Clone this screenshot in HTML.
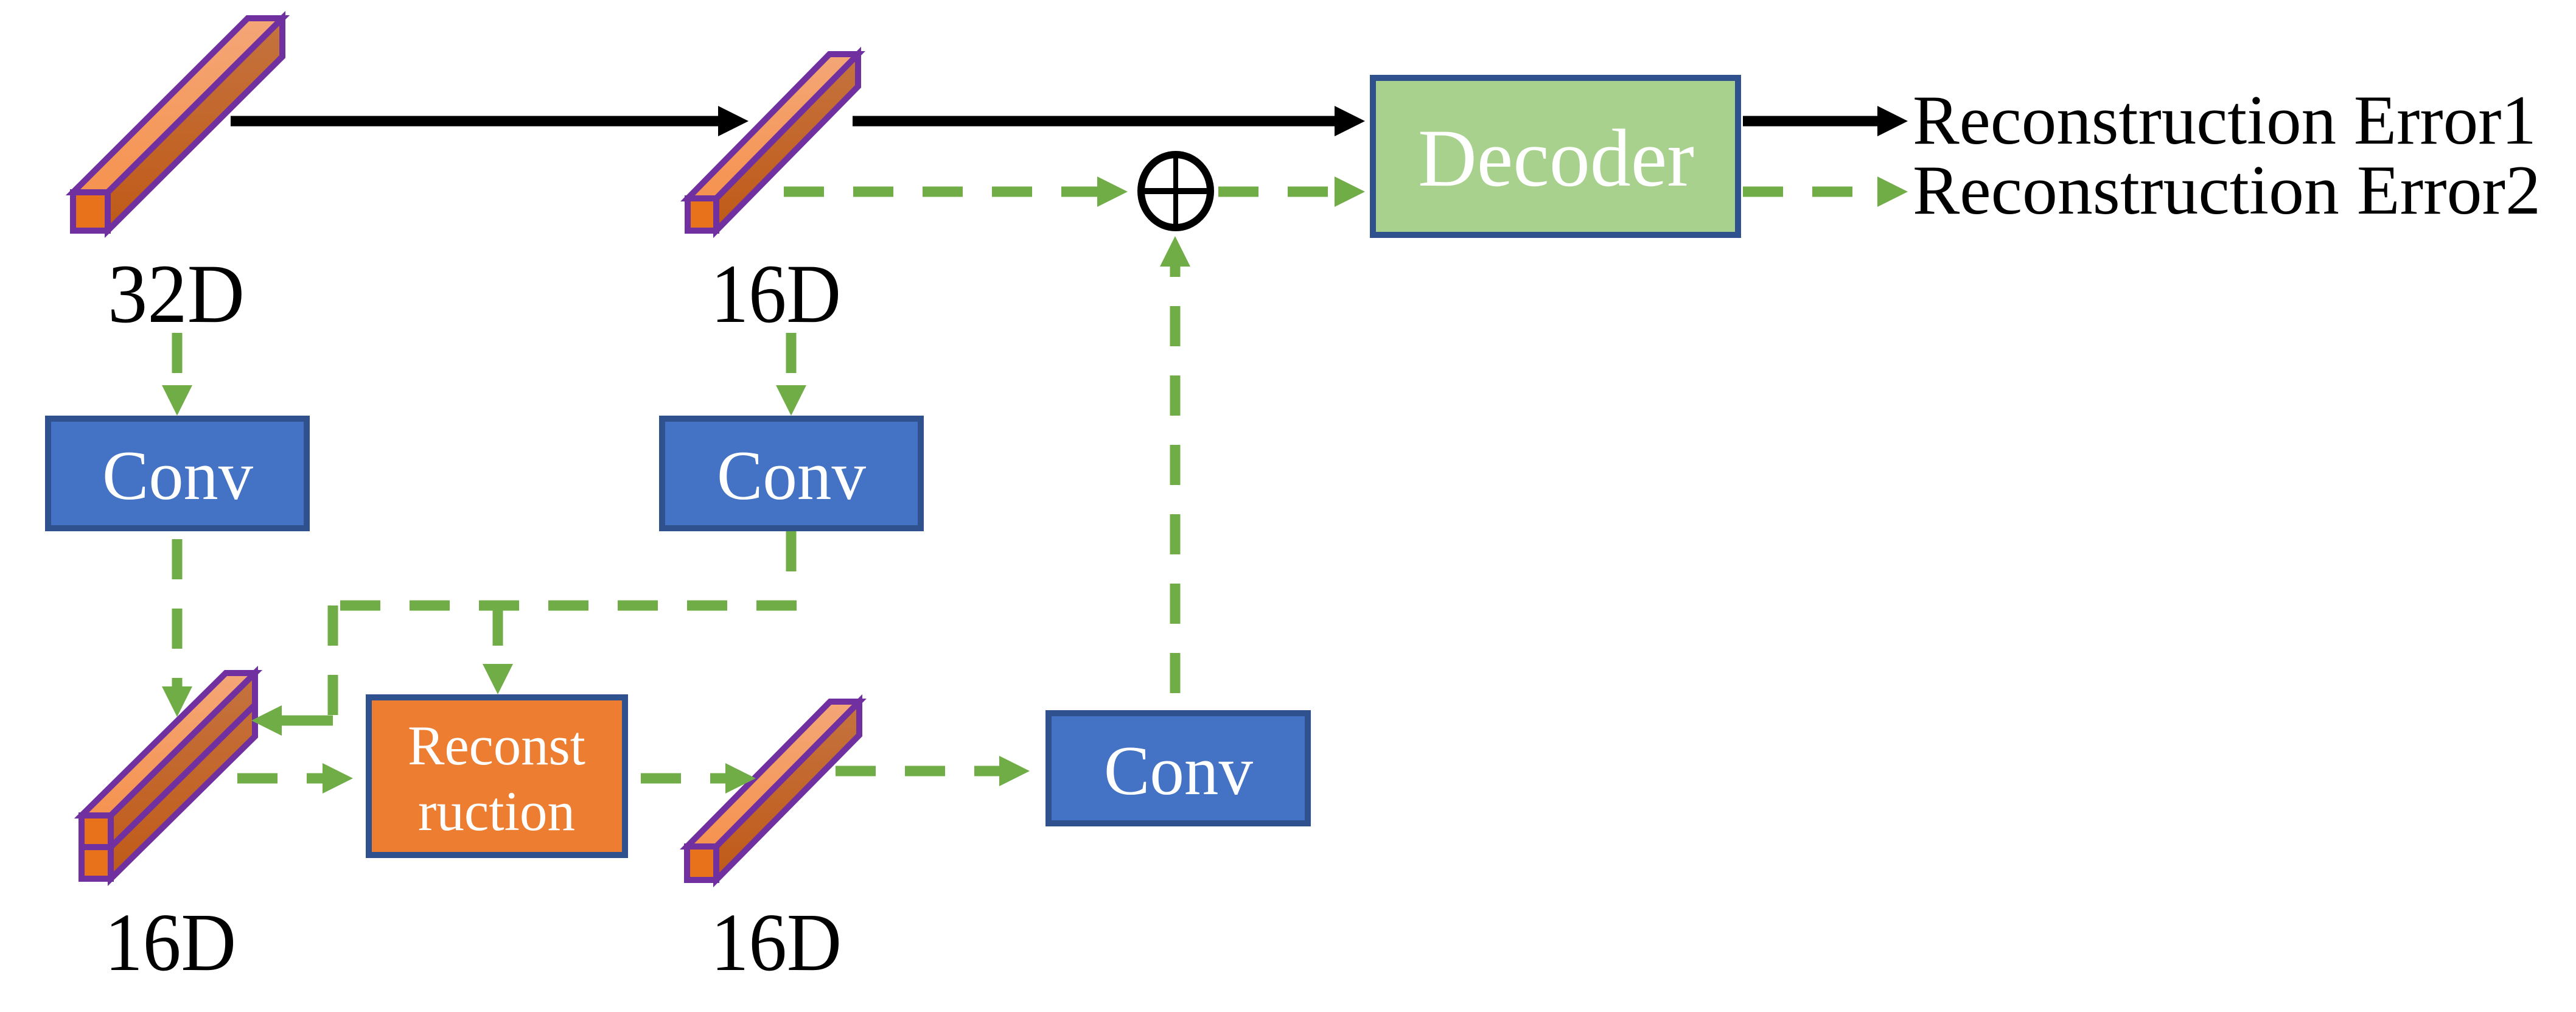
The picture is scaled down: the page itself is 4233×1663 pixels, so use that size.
<!DOCTYPE html>
<html><head><meta charset="utf-8"><style>
html,body{margin:0;padding:0;background:#fff;}
svg{display:block;}
text{font-family:"Liberation Serif","Times New Roman","DejaVu Serif",serif;}
</style></head><body>
<svg width="4233" height="1663" viewBox="0 0 4233 1663" xmlns="http://www.w3.org/2000/svg" font-family="'Liberation Serif', 'Times New Roman', serif">
<defs>
<linearGradient id="side" x1="0" y1="0" x2="0" y2="1"><stop offset="0" stop-color="#C5733F"/><stop offset="1" stop-color="#C05A18"/></linearGradient>
<linearGradient id="top" x1="0" y1="0" x2="0" y2="1"><stop offset="0" stop-color="#F4A677"/><stop offset="1" stop-color="#F59350"/></linearGradient>
</defs>
<g id="bars"></g>
<g id="lines" fill="#70AD47"></g>

<rect x="79" y="688" width="425" height="180" fill="#4472C4" stroke="#2F528F" stroke-width="10"/>
<rect x="1088" y="688" width="425" height="180" fill="#4472C4" stroke="#2F528F" stroke-width="10"/>
<rect x="1723" y="1172" width="426" height="181" fill="#4472C4" stroke="#2F528F" stroke-width="10"/>
<rect x="606" y="1146" width="421" height="259" fill="#ED7D31" stroke="#2F528F" stroke-width="10"/>
<rect x="2256" y="128" width="600" height="258" fill="#A9D18E" stroke="#2F528F" stroke-width="10"/>

<text x="168" y="820" font-size="115" fill="#fff" textLength="248" lengthAdjust="spacingAndGlyphs">Conv</text>
<text x="1178" y="820" font-size="115" fill="#fff" textLength="245" lengthAdjust="spacingAndGlyphs">Conv</text>
<text x="1814" y="1305" font-size="115" fill="#fff" textLength="245" lengthAdjust="spacingAndGlyphs">Conv</text>
<text x="670" y="1256" font-size="92" fill="#fff" textLength="292" lengthAdjust="spacingAndGlyphs">Reconst</text>
<text x="687" y="1364" font-size="92" fill="#fff" textLength="258" lengthAdjust="spacingAndGlyphs">ruction</text>
<text x="2330" y="305" font-size="135" fill="#fff" textLength="454" lengthAdjust="spacingAndGlyphs">Decoder</text>

<text x="177" y="529" font-size="138" fill="#000" textLength="225" lengthAdjust="spacingAndGlyphs">32D</text>
<text x="1168" y="529" font-size="138" fill="#000" textLength="214" lengthAdjust="spacingAndGlyphs">16D</text>
<text x="172" y="1594" font-size="136" fill="#000" textLength="216" lengthAdjust="spacingAndGlyphs">16D</text>
<text x="1168" y="1594" font-size="136" fill="#000" textLength="215" lengthAdjust="spacingAndGlyphs">16D</text>
<text x="3143" y="236" font-size="115" fill="#000" textLength="1025" lengthAdjust="spacingAndGlyphs">Reconstruction Error1</text>
<text x="3143" y="351" font-size="115" fill="#000" textLength="1032" lengthAdjust="spacingAndGlyphs">Reconstruction Error2</text>

<g stroke="#000" fill="none">
<ellipse cx="1932" cy="314" rx="57" ry="60" stroke-width="12"/>
<line x1="1875" y1="314" x2="1989" y2="314" stroke-width="10"/>
<line x1="1932" y1="254" x2="1932" y2="374" stroke-width="8"/>
</g>
</svg>
<script>
const NS='http://www.w3.org/2000/svg';
const bars=document.getElementById('bars');
const lines=document.getElementById('lines');
function poly(parent,pts,fill,stroke,tag){
  const p=document.createElementNS(NS,tag||'polygon');
  p.setAttribute('points',pts.map(a=>a.join(',')).join(' '));
  p.setAttribute('fill',fill);
  if(stroke){p.setAttribute('stroke',stroke);p.setAttribute('stroke-width','10');p.setAttribute('stroke-linejoin','miter');}
  parent.appendChild(p);return p;
}
function bar(name,x,y,w,h,dx,dy,split){
  const g=document.createElementNS(NS,'g');
  
  
  bars.appendChild(g);
  poly(g,[[x+w,y],[x+w+dx,y+dy],[x+w+dx,y+h+dy],[x+w,y+h]],'url(#side)','#7030A0');
  poly(g,[[x,y],[x+w,y],[x+w+dx,y+dy],[x+dx,y+dy]],'url(#top)','#7030A0');
  poly(g,[[x,y],[x+w,y],[x+w,y+h],[x,y+h]],'#E8721C','#7030A0');
  if(split){
    const m=y+h/2;
    poly(g,[[x,m],[x+w,m],[x+w+dx,m+dy]],'none','#7030A0','polyline');
  }
}
bar('feature-bar-32d',120,316,57,63,287,-286,false);
bar('feature-bar-16d-top',1130,326,47,53,233,-237,false);
bar('feature-bar-16d-concat',134,1340,48,104,237,-234,true);
bar('feature-bar-16d-reconstructed',1129,1391,48,55,235,-238,false);

function shaft(name,x1,y1,x2,y2,color,dashed){
  const l=document.createElementNS(NS,'line');
  
  
  l.setAttribute('x1',x1);l.setAttribute('y1',y1);l.setAttribute('x2',x2);l.setAttribute('y2',y2);
  l.setAttribute('stroke',color);l.setAttribute('stroke-width','17');
  if(dashed)l.setAttribute('stroke-dasharray','66 48');
  lines.appendChild(l);
}
function head(name,tx,ty,dir,color){
  const L=50,H=25;let pts;
  if(dir==='r')pts=[[tx,ty],[tx-L,ty-H],[tx-L,ty+H]];
  if(dir==='l')pts=[[tx,ty],[tx+L,ty-H],[tx+L,ty+H]];
  if(dir==='d')pts=[[tx,ty],[tx-H,ty-L],[tx+H,ty-L]];
  if(dir==='u')pts=[[tx,ty],[tx-H,ty+L],[tx+H,ty+L]];
  const p=poly(lines,pts,color,null);
  
  
}
const B='#000',G='#70AD47';
shaft('black-arrow-32d-16d',379,199,1185,199,B,false);head('black-arrowhead-1',1230,199,'r',B);
shaft('black-arrow-16d-decoder',1401,199,2198,199,B,false);head('black-arrowhead-2',2243,199,'r',B);
shaft('black-arrow-decoder-error1',2864,199,3088,199,B,false);head('black-arrowhead-3',3135,199,'r',B);
shaft('green-arrow-16d-add',1288,315,1806,315,G,true);head('green-arrowhead-add',1853,315,'r',G);
shaft('green-arrow-add-decoder',2002,315,2196,315,G,true);head('green-arrowhead-decoder',2243,315,'r',G);
shaft('green-arrow-decoder-error2',2864,315,3086,315,G,true);head('green-arrowhead-error2',3135,315,'r',G);
shaft('green-arrow-32d-conv',291,547,291,636,G,true);head('green-arrowhead-conv1',291,683,'d',G);
shaft('green-arrow-16d-conv',1300,547,1300,636,G,true);head('green-arrowhead-conv2',1300,683,'d',G);
shaft('green-arrow-conv1-bar',291,886,291,1130,G,true);head('green-arrowhead-bar',291,1178,'d',G);
shaft('green-path-conv2-down',1300,873,1300,995,G,true);
shaft('green-path-horizontal',1309,995,547,995,G,true);
shaft('green-path-left-down',547,995,547,1184,G,true);
shaft('green-path-left',547,1184,460,1184,G,false);head('green-arrowhead-into-bar',413,1184,'l',G);
shaft('green-path-to-reconstruction',818,995,818,1094,G,true);head('green-arrowhead-reconstruction',818,1141,'d',G);
shaft('green-arrow-bar-reconstruction',390,1279,533,1279,G,true);head('green-arrowhead-recon-in',580,1279,'r',G);
shaft('green-arrow-reconstruction-bar',1053,1279,1195,1279,G,true);head('green-arrowhead-bar3',1242,1279,'r',G);
shaft('green-arrow-bar-conv3',1373,1267,1645,1267,G,true);head('green-arrowhead-conv3',1692,1267,'r',G);
shaft('green-arrow-conv3-add',1931,1139,1931,436,G,true);head('green-arrowhead-add-up',1931,388,'u',G);
</script>
</body></html>
